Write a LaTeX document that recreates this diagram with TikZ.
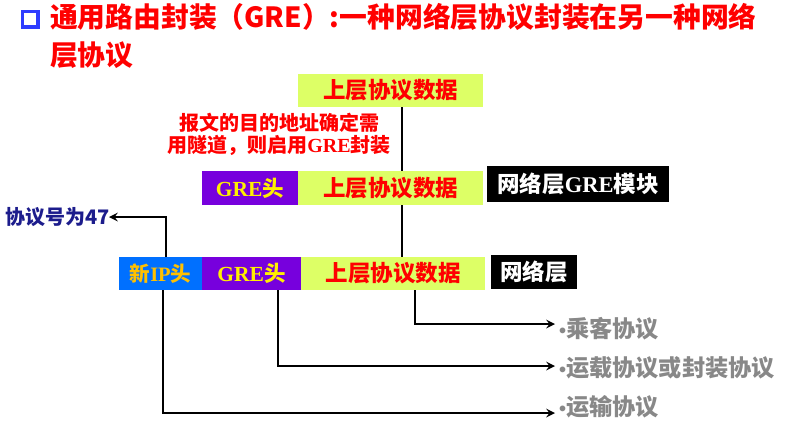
\documentclass[tikz,border=0pt]{standalone}
\usepackage{fontspec}
\setmainfont{Noto Sans CJK SC}
\newfontfamily\latserif{Liberation Serif}
\newfontfamily\latsans{Liberation Sans}
\usetikzlibrary{arrows}
\definecolor{dataY}{HTML}{DDFF66}
\definecolor{greP}{HTML}{7700DD}
\definecolor{ipB}{HTML}{0070FF}
\definecolor{greT}{HTML}{FFF000}
\definecolor{ipT}{HTML}{FFC000}
\definecolor{navy}{HTML}{1C1C8C}
\definecolor{sqB}{HTML}{2E3CFF}
\definecolor{grayT}{HTML}{888888}
\newcommand{\fs}[1]{\fontsize{#1}{#1}\selectfont\bfseries}
\newcommand{\bul}{{\latsans\fontsize{20}{20}\selectfont •}}
\begin{document}
\begin{tikzpicture}[x=1pt, y=-1pt, >=stealth, every node/.style={inner sep=0pt, outer sep=0pt},
    data/.style={fill=dataY, minimum height=33pt, text=red, font=\fs{22.5}},
    grebox/.style={fill=greP, minimum height=33pt, text=greT, font=\fs{21.5}},
    blk/.style={fill=black, text=white, font=\fs{22.5}},
    proto/.style={anchor=west, text=grayT, font=\fs{23.2}},
    conn/.style={line width=2.8pt}]
    \useasboundingbox (0,0) rectangle (787,437);
    % title
    \draw[sqB, line width=3.5pt] (22.5,11.5) rectangle (38,27);
    \node[anchor=base west, text=red, font=\fs{27.8}] (t1) at (50,27) {通用路由封装（GRE）:一种网络层协议封装在另一种网络};
    \node[anchor=base west, text=red, font=\fs{27.8}] (t2) at (50,65) {层协议};
    % rows
    \node[data, minimum width=185pt] (d1) at (390.5,90.5) {上层协议数据};
    \node[text=red, align=center, font=\fontsize{20}{22}\selectfont\bfseries] (note) at (279,134) {报文的目的地址确定需\\用隧道，则启用{\latserif\bfseries GRE}封装};
    \node[grebox, minimum width=96pt, minimum height=34pt] (g2) at (250,188) {{\latserif\bfseries GRE}头};
    \node[data, minimum width=185pt, minimum height=34pt] (d2) at (390.5,188) {上层协议数据};
    \node[blk, minimum width=182pt, minimum height=36pt] (m2) at (578,184) {网络层{\latserif\bfseries GRE}模块};
    \node[fill=ipB, text=ipT, minimum width=83pt, minimum height=33pt, font=\fs{20.5}] (ip) at (160.5,273.5) {新{\latserif\bfseries IP}头};
    \node[grebox, minimum width=99pt] (g3) at (251.5,273.5) {{\latserif\bfseries GRE}头};
    \node[data, minimum width=184pt] (d3) at (393,273.5) {上层协议数据};
    \node[blk, minimum width=86pt, minimum height=34pt] (m3) at (534,272) {网络层};
    \node[anchor=east, text=navy, font=\fs{20}] (num) at (110,217) {协议号为47};
    \node[proto] (p1) at (559,329) {\bul 乘客协议};
    \node[proto] (p2) at (559,368) {\bul 运载协议或封装协议};
    \node[proto] (p3) at (559,407) {\bul 运输协议};
    \coordinate (e1) at (555,324);
    \coordinate (e2) at (555,366);
    \coordinate (e3) at (555,413);
    % connectors
    \draw[conn] ([xshift=11.5pt]d1.south) -- ([xshift=11.5pt]d2.north);
    \draw[conn] ([xshift=11.5pt]d2.south) -- ([xshift=9pt]d3.north);
    \draw[conn, ->] ([xshift=5.5pt]ip.north) |- (num.east) [shorten >=-1pt];
    \draw[conn, ->] ([xshift=22pt]d3.south) |- (e1);
    \draw[conn, ->] ([xshift=26.5pt]g3.south) |- (e2);
    \draw[conn, ->] ([xshift=2.5pt]ip.south) |- (e3);
\end{tikzpicture}
\end{document}
